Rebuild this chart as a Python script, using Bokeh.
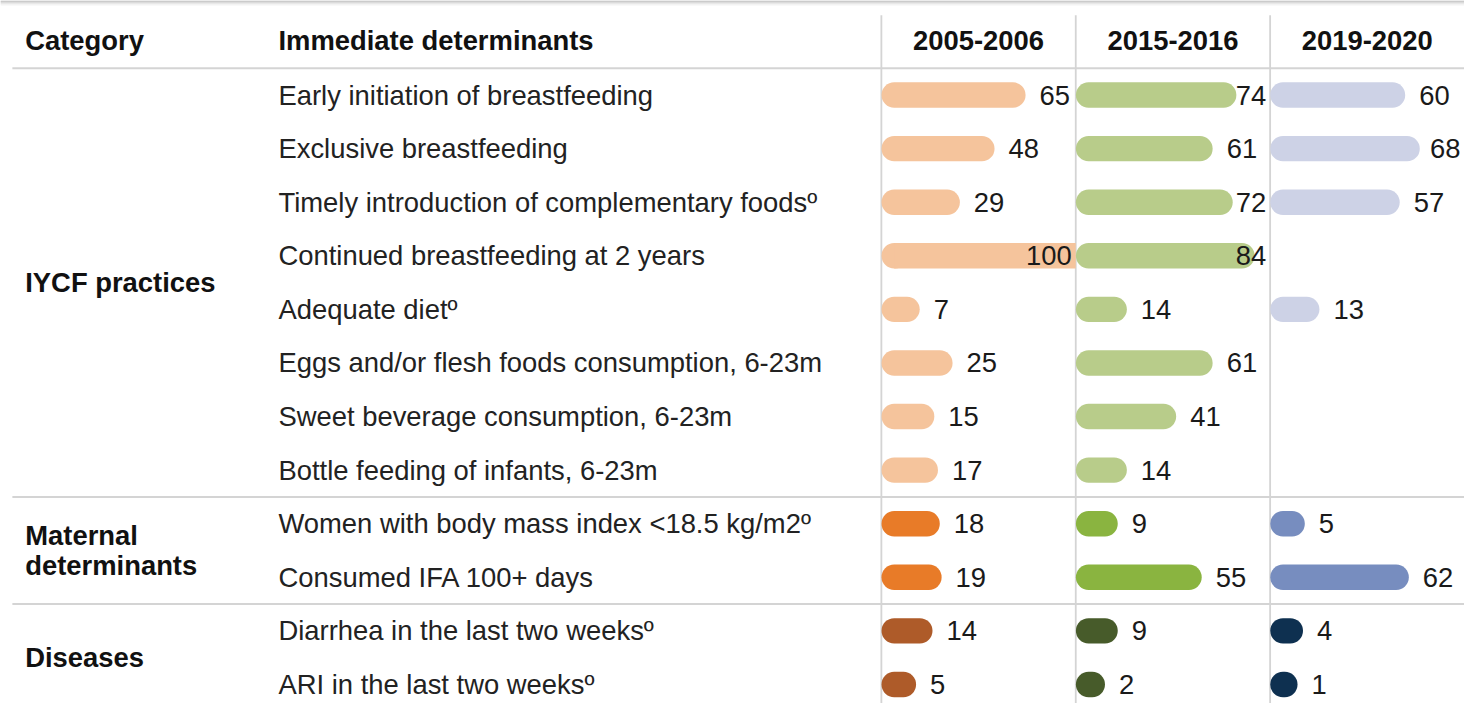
from bokeh.plotting import figure
from bokeh.models import Range1d
from bokeh.core.properties import value
from bokeh.embed import file_html
from bokeh.resources import INLINE

# ---------------- data ----------------
header_category = "Category"
header_determinants = "Immediate determinants"
periods = ["2005-2006", "2015-2016", "2019-2020"]

determinants = [
    "Early initiation of breastfeeding",
    "Exclusive breastfeeding",
    "Timely introduction of complementary foods\u00ba",
    "Continued breastfeeding at 2 years",
    "Adequate diet\u00ba",
    "Eggs and/or flesh foods consumption, 6-23m",
    "Sweet beverage consumption, 6-23m",
    "Bottle feeding of infants, 6-23m",
    "Women with body mass index <18.5 kg/m2\u00ba",
    "Consumed IFA 100+ days",
    "Diarrhea in the last two weeks\u00ba",
    "ARI in the last two weeks\u00ba",
]
groups = ["IYCF practices"] * 8 + ["Maternal determinants"] * 2 + ["Diseases"] * 2
group_labels = {"IYCF practices": ["IYCF practices"],
                "Maternal determinants": ["Maternal", "determinants"],
                "Diseases": ["Diseases"]}

v2005 = [65, 48, 29, 100, 7, 25, 15, 17, 18, 19, 14, 5]
v2015 = [74, 61, 72, 84, 14, 61, 41, 14, 9, 55, 9, 2]
v2019 = [60, 68, 57, None, 13, None, None, None, 5, 62, 4, 1]
values = [v2005, v2015, v2019]

palette = {
    "IYCF practices": ["#F5C49C", "#B8CC8A", "#CDD2E6"],
    "Maternal determinants": ["#E87B28", "#8AB440", "#778DBF"],
    "Diseases": ["#AE5B29", "#475B2A", "#0E3050"],
}

# ---------------- layout ----------------
W, H = 1464, 703            # figure size in screen px
RW, RH = 1480, 719          # design coordinate space
sy = H / RH
FONT = value("Liberation Sans")
FS = "%.1fpx" % (28 * sy)
row_y0, row_dy = 96.7, 54.8
col_left = [890.5, 1087.0, 1283.5]
col_w = 196.5
bar_h = 26
K = 1.845          # design px per percentage point
txt_col = "#222222"
grid_col = "#d4d4d4"

p = figure(width=W, height=H, x_range=Range1d(0, RW), y_range=Range1d(RH, 0),
           output_backend="svg", toolbar_location=None, min_border=0,
           x_axis_type=None, y_axis_type=None)
p.grid.visible = False
p.outline_line_color = None
p.background_fill_color = "white"
p.border_fill_color = "white"

# top shadow band
shade = ["#b4b4b4", "#c6c6c6", "#d8d8d8", "#e7e7e7", "#f3f3f3"]
p.segment(x0=[0] * 5, x1=[RW] * 5, y0=[0.5 + i for i in range(5)],
          y1=[0.5 + i for i in range(5)], line_color=shade, line_width=1.2)

ys = [row_y0 + i * row_dy for i in range(len(determinants))]

# grid lines
seps = [ys[0] - row_dy / 2]
for i in range(1, len(groups)):
    if groups[i] != groups[i - 1]:
        seps.append((ys[i - 1] + ys[i]) / 2)
p.segment(x0=[12] * len(seps), x1=[RW] * len(seps), y0=seps, y1=seps,
          line_color=grid_col, line_width=2)
p.segment(x0=col_left, x1=col_left, y0=[15] * 3, y1=[RH] * 3,
          line_color=grid_col, line_width=1.8)

# headers
p.text(x=[25], y=[41], text=[header_category], text_font=FONT, text_font_size=FS,
       text_font_style="bold", text_baseline="middle", text_color="#111111")
p.text(x=[281], y=[41], text=[header_determinants], text_font=FONT, text_font_size=FS,
       text_font_style="bold", text_baseline="middle", text_color="#111111")
p.text(x=[c + col_w / 2 for c in col_left], y=[41] * 3, text=periods, text_font=FONT,
       text_font_size=FS, text_font_style="bold", text_baseline="middle",
       text_align="center", text_color="#111111")

# determinants
p.text(x=[281] * len(determinants), y=ys, text=determinants, text_font=FONT,
       text_font_size=FS, text_baseline="middle", text_color=txt_col)

# group labels
for g, lines in group_labels.items():
    idx = [i for i, gg in enumerate(groups) if gg == g]
    yc = (ys[idx[0]] + ys[idx[-1]]) / 2
    n = len(lines)
    gy = [yc + (j - (n - 1) / 2) * 30 for j in range(n)]
    p.text(x=[25] * n, y=gy, text=lines, text_font=FONT, text_font_size=FS,
           text_font_style="bold", text_baseline="middle", text_color="#111111")

# bars and value labels
lw = bar_h * sy
digit_w = 0.556 * 28
for c, vals in enumerate(values):
    x0 = col_left[c]
    xe = x0 + col_w
    for i, v in enumerate(vals):
        if v is None:
            continue
        color = palette[groups[i]][c]
        right = x0 + bar_h + K * v
        y = ys[i]
        if right <= xe:
            p.segment(x0=[x0 + bar_h / 2], x1=[right - bar_h / 2], y0=[y], y1=[y],
                      line_color=color, line_width=lw, line_cap="round")
        else:
            right = xe
            p.segment(x0=[x0 + bar_h / 2], x1=[x0 + bar_h / 2 + 1], y0=[y], y1=[y],
                      line_color=color, line_width=lw, line_cap="round")
            p.segment(x0=[x0 + bar_h / 2], x1=[xe], y0=[y], y1=[y],
                      line_color=color, line_width=lw, line_cap="butt")
        lab = str(v)
        lx = right + 14
        align = "left"
        if lx + digit_w * len(lab) > xe - 4:
            lx = xe - 4
            align = "right"
        p.text(x=[lx], y=[y], text=[lab], text_font=FONT, text_font_size=FS,
               text_baseline="middle", text_align=align, text_color="#1a1a1a")

open("out.html", "w").write(file_html(p, INLINE))
